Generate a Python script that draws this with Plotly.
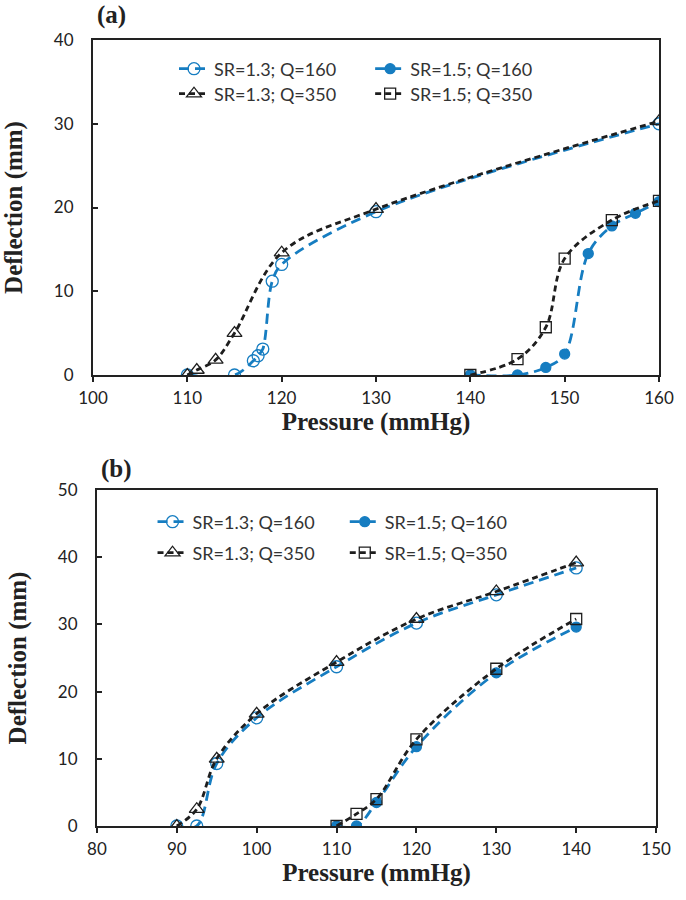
import plotly.graph_objects as go

# ---- data, panel (a) ----
a_p_sr13_q160 = [110, 115, 117, 117.5, 118, 119, 120, 130, 160]
a_d_sr13_q160 = [0, 0, 1.7, 2.3, 3.1, 11.2, 13.2, 19.5, 30.0]
a_p_sr15_q160 = [140, 145, 148, 150, 152.5, 155, 157.5, 160]
a_d_sr15_q160 = [0, 0, 0.9, 2.5, 14.5, 17.8, 19.3, 20.7]
a_p_sr13_q350 = [110, 111, 113, 115, 120, 130, 160]
a_d_sr13_q350 = [0, 0.6, 1.8, 5.0, 14.6, 19.8, 30.3]
a_p_sr15_q350 = [140, 145, 148, 150, 155, 160]
a_d_sr15_q350 = [0, 1.9, 5.7, 13.9, 18.5, 20.8]

# ---- data, panel (b) ----
b_p_sr13_q160 = [90, 92.5, 95, 100, 110, 120, 130, 140]
b_d_sr13_q160 = [0, 0, 9.3, 16.1, 23.7, 30.2, 34.4, 38.4]
b_p_sr15_q160 = [110, 112.5, 115, 120, 130, 140]
b_d_sr15_q160 = [0, 0, 3.5, 11.8, 22.8, 29.6]
b_p_sr13_q350 = [90, 92.5, 95, 100, 110, 120, 130, 140]
b_d_sr13_q350 = [0, 2.5, 10.0, 16.7, 24.4, 30.8, 34.9, 39.2]
b_p_sr15_q350 = [110, 112.5, 115, 120, 130, 140]
b_d_sr15_q350 = [0, 1.8, 4.0, 12.9, 23.4, 30.8]

names = ["SR=1.3; Q=160", "SR=1.5; Q=160", "SR=1.3; Q=350", "SR=1.5; Q=350"]

BLUE = "#167dc1"
BLACK = "#1e1e1e"
styles = [
    dict(color=BLUE, dash="10px,6px", symbol="circle-open", size=12),
    dict(color=BLUE, dash="10px,6px", symbol="circle", size=10),
    dict(color=BLACK, dash="6px,4px", symbol="triangle-up-open", size=13),
    dict(color=BLACK, dash="6px,4px", symbol="square-open", size=11),
]

W, H = 686, 900
ML, MR, MT, MB = 88, 18, 40, 74
GW, GH = W - ML - MR, H - MT - MB


def px_x(px):
    return (px - ML) / GW


def px_y(py):
    return (H - MB - py) / GH


# legend slots (pixel position of the text start, row centre) for each entry
a_leg_pos = [(211, 69), (412, 69), (211, 94), (412, 94)]
b_leg_pos = [(189, 522), (386, 522), (189, 553), (386, 553)]

fig = go.Figure()
leg_font = dict(family="Lato", size=18, color="#333")
legends = {}

panels = [
    ("x", "y", a_leg_pos, [(a_p_sr13_q160, a_d_sr13_q160), (a_p_sr15_q160, a_d_sr15_q160),
                           (a_p_sr13_q350, a_d_sr13_q350), (a_p_sr15_q350, a_d_sr15_q350)]),
    ("x2", "y2", b_leg_pos, [(b_p_sr13_q160, b_d_sr13_q160), (b_p_sr15_q160, b_d_sr15_q160),
                             (b_p_sr13_q350, b_d_sr13_q350), (b_p_sr15_q350, b_d_sr15_q350)]),
]

n = 0
for xa, ya, leg_pos, series in panels:
    for (xs, ys), name, st, (lx, ly) in zip(series, names, styles, leg_pos):
        n += 1
        leg = "legend" if n == 1 else "legend%d" % n
        legends[leg] = dict(x=px_x(lx - 40), y=px_y(ly), xanchor="left", yanchor="middle",
                            font=leg_font, bgcolor="rgba(0,0,0,0)", borderwidth=0)
        fig.add_trace(go.Scatter(
            x=xs, y=ys, name=name, xaxis=xa, yaxis=ya, legend=leg,
            mode="lines+markers",
            line=dict(color=st["color"], width=2.8, dash=st["dash"], shape="spline"),
            marker=dict(symbol=st["symbol"], size=st["size"], color=st["color"],
                        line=dict(color=st["color"], width=1.3)),
        ))

tick_font = dict(family="Lato", size=17, color="#222")
title_font = dict(family="Liberation Serif", size=25, color="#222")

axis_common = dict(
    showline=True, linecolor="#222", linewidth=2, mirror=True,
    showgrid=False, zeroline=False, tickfont=tick_font,
    ticklen=5, tickwidth=1.5, tickcolor="#222",
)
x_common = dict(axis_common, ticks="outside", ticklabelstandoff=2, dtick=10,
                title=dict(text="<b>Pressure (mmHg)</b>", font=title_font, standoff=0))
y_common = dict(axis_common, ticks="inside", ticklabelstandoff=14, dtick=10,
                title=dict(text="<b>Deflection (mm)</b>", font=title_font, standoff=24))

fig.update_layout(
    width=W, height=H,
    margin=dict(l=ML, r=MR, t=MT, b=MB),
    paper_bgcolor="white", plot_bgcolor="white",
    showlegend=True,
    xaxis=dict(x_common, domain=[0, 1], anchor="y", range=[100, 160]),
    yaxis=dict(y_common, domain=[px_y(375), 1], anchor="x", range=[0, 40]),
    xaxis2=dict(x_common, domain=[px_x(92), px_x(665)], anchor="y2", range=[80, 150]),
    yaxis2=dict(y_common, domain=[0, px_y(490)], anchor="x2", range=[0, 50]),
    annotations=[
        dict(text="<b>(a)</b>", x=px_x(90), y=px_y(15), xref="paper", yref="paper",
             xanchor="left", yanchor="middle", showarrow=False, font=title_font),
        dict(text="<b>(b)</b>", x=px_x(94), y=px_y(469), xref="paper", yref="paper",
             xanchor="left", yanchor="middle", showarrow=False, font=title_font),
    ],
    **legends,
)

# drop the default page margin so the figure sits at the window's top-left corner
fig.write_html("out.html",
               config={"displayModeBar": False},
               post_script="document.body.style.margin='0';document.body.style.overflow='hidden';")
